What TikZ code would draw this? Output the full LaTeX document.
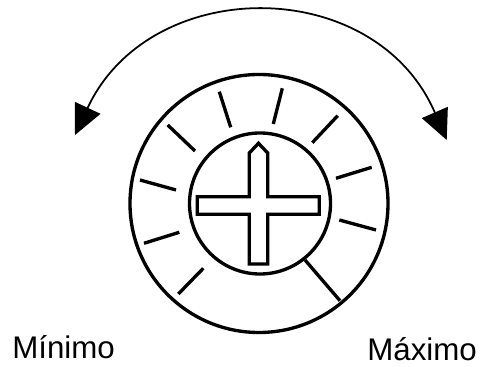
\documentclass[tikz,border=0pt]{standalone}
\usepackage{fontspec}
\setmainfont{Liberation Sans}
\usetikzlibrary{arrows.meta}
\tikzset{
  dial/.style={black,line width=1.9pt},
  swing/.style={black,line width=1pt,{Triangle[length=0.6cm,width=0.56cm]}-{Triangle[length=0.6cm,width=0.56cm]}},
  scalelabel/.style={inner sep=0pt,anchor=base west,font=\fontsize{17.8pt}{20pt}\selectfont}
}
\begin{document}
\begin{tikzpicture}[x=0.02cm,y=-0.02cm]
  \useasboundingbox (0,0) rectangle (480,367);
  % knob
  \draw[dial] (259,203.5) circle[radius=129];
  \draw[dial] (260,203.5) circle[radius=70.5];
  % cross with pointer on top
  \draw[dial,line join=miter] (249.3,153) -- (258.5,143.3) -- (267.7,153) -- (267.7,196.7)
    -- (319.3,196.7) -- (319.3,214.3) -- (267.7,214.3) -- (267.7,264) -- (249.3,264)
    -- (249.3,214.3) -- (197.3,214.3) -- (197.3,196.7) -- (249.3,196.7) -- cycle;
  % scale marks
  \foreach \xa/\ya/\xb/\yb in {178.3/294/203.3/268.3, 144/243.3/179.3/232.3, 140/180/176/190,
    167.7/125/195/151, 219.3/91.7/230.7/127.3, 282.3/88.3/273.3/124, 337.7/115.7/312.3/142.7,
    371.7/167.3/336/178.3, 376/230/339.3/220, 340/300.7/305/260}{
    \draw[dial] (\xa,\ya) -- (\xb,\yb);
  }
  % rotation arrow
  \coordinate (minend) at (75,135);
  \coordinate (maxend) at (446.7,140);
  \draw[swing] (minend) .. controls (150,-26) and (375,-26) .. (maxend);
  \node[scalelabel] (minlabel) at (12,359) {Mínimo};
  \node[scalelabel] (maxlabel) at (367,361) {Máximo};
\end{tikzpicture}
\end{document}
